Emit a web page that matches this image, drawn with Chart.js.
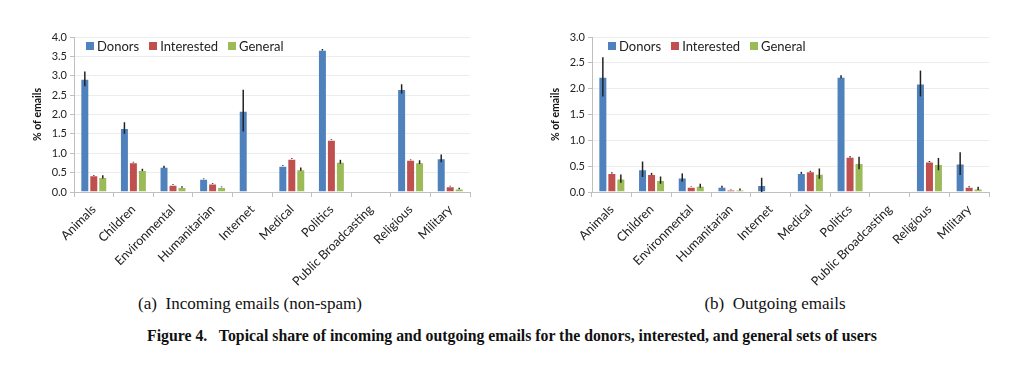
<!DOCTYPE html>
<html>
<head>
<meta charset="utf-8">
<script src="https://cdn.jsdelivr.net/npm/chart.js@4/dist/chart.umd.min.js"></script>
<style>
  body { margin: 0; width: 1036px; height: 372px; background: #fff; position: relative; overflow: hidden; }
  canvas { position: absolute; top: 0; }
  .legend { position: absolute; top: 38px; height: 16px; display: flex; align-items: center; font: 13px Lato, sans-serif; color: #222; white-space: nowrap; }
  .legend .item { display: flex; align-items: center; margin-right: 10px; }
  .legend .sq { width: 8px; height: 8px; margin-right: 3px; }
  .cap { position: absolute; top: 294px; font: 17px "Liberation Serif", serif; color: #111; transform: translateX(-50%); white-space: nowrap; }
  .fig { position: absolute; top: 327px; left: 512px; font: bold 15.8px "Liberation Serif", serif; color: #111; transform: translateX(-50%); white-space: nowrap; }
</style>
</head>
<body>
<canvas id="chartIn" width="518" height="290" style="left:0;width:518px;height:290px"></canvas>
<canvas id="chartOut" width="518" height="290" style="left:518px;width:518px;height:290px"></canvas>

<div class="legend" style="left:86px">
  <div class="item"><div class="sq" style="background:#4F81BD"></div>Donors</div>
  <div class="item"><div class="sq" style="background:#C0504D"></div>Interested</div>
  <div class="item"><div class="sq" style="background:#9BBB59"></div>General</div>
</div>
<div class="legend" style="left:608px">
  <div class="item"><div class="sq" style="background:#4F81BD"></div>Donors</div>
  <div class="item"><div class="sq" style="background:#C0504D"></div>Interested</div>
  <div class="item"><div class="sq" style="background:#9BBB59"></div>General</div>
</div>

<div class="cap" style="left:250px">(a)&nbsp; Incoming emails (non-spam)</div>
<div class="cap" style="left:775px">(b)&nbsp; Outgoing emails</div>
<div class="fig">Figure 4.&nbsp;&nbsp; Topical share of incoming and outgoing emails for the donors, interested, and general sets of users</div>

<script>
const categories = ['Animals', 'Children', 'Environmental', 'Humanitarian', 'Internet', 'Medical', 'Politics', 'Public Broadcasting', 'Religious', 'Military'];
const seriesNames = ['Donors', 'Interested', 'General'];
const colors = ['#4F81BD', '#C0504D', '#9BBB59'];

// incoming emails (non-spam)
const inDonors = [2.92, 1.65, 0.65, 0.34, 2.10, 0.68, 3.67, 0, 2.66, 0.87];
const inDonorsErr = [0.19, 0.15, 0.03, 0.01, 0.54, 0.01, 0.02, 0, 0.12, 0.10];
const inInterested = [0.43, 0.77, 0.19, 0.22, 0, 0.86, 1.35, 0, 0.83, 0.15];
const inInterestedErr = [0.01, 0.01, 0.01, 0.01, 0, 0.01, 0.01, 0, 0.01, 0.01];
const inGeneral = [0.39, 0.57, 0.13, 0.13, 0.01, 0.59, 0.78, 0, 0.77, 0.09];
const inGeneralErr = [0.04, 0.03, 0.02, 0.01, 0, 0.04, 0.05, 0, 0.05, 0.02];

// outgoing emails
const outDonors = [2.23, 0.44, 0.28, 0.10, 0.135, 0.37, 2.23, 0, 2.10, 0.55];
const outDonorsErr = [0.38, 0.15, 0.08, 0.02, 0.14, 0.02, 0.03, 0, 0.25, 0.22];
const outInterested = [0.37, 0.35, 0.10, 0.045, 0, 0.40, 0.68, 0, 0.59, 0.10];
const outInterestedErr = [0.01, 0.02, 0.005, 0.005, 0, 0.01, 0.01, 0, 0.01, 0.01];
const outGeneral = [0.26, 0.23, 0.12, 0.05, 0, 0.355, 0.56, 0, 0.54, 0.07];
const outGeneralErr = [0.08, 0.07, 0.04, 0.02, 0, 0.10, 0.12, 0, 0.12, 0.03];

const inTicksMax = 4.0;
const outTicksMax = 3.0;

// barre di errore disegnate sopra le colonne
const errorBarsPlugin = {
    id: 'errorBars',
    afterDatasetsDraw(chart) {
        const ctx = chart.ctx;
        const yScale = chart.scales.y;
        ctx.save();
        ctx.strokeStyle = '#222';
        ctx.lineWidth = 1.5;
        chart.data.datasets.forEach((ds, i) => {
            const meta = chart.getDatasetMeta(i);
            meta.data.forEach((bar, j) => {
                const err = ds.errors[j];
                if (!err) return;
                const v = ds.data[j];
                ctx.beginPath();
                ctx.moveTo(bar.x, yScale.getPixelForValue(v + err));
                ctx.lineTo(bar.x, yScale.getPixelForValue(Math.max(0, v - err)));
                ctx.stroke();
            });
        });
        ctx.restore();
    }
};

function makeChart(id, values, errors, maxY, padRight) {
    const ctx = document.getElementById(id).getContext('2d');
    return new Chart(ctx, {
        type: 'bar',
        data: {
            labels: categories,
            datasets: values.map((v, i) => ({
                label: seriesNames[i],
                data: v,
                errors: errors[i],
                backgroundColor: colors[i],
                borderColor: 'rgba(255,255,255,0.2)',
                borderWidth: 1,
                categoryPercentage: 0.68,
                barPercentage: 1.0
            }))
        },
        options: {
            responsive: false,
            animation: false,
            layout: { padding: { left: 0, right: padRight, top: 37, bottom: 0 } },
            plugins: { legend: { display: false }, tooltip: { enabled: false } },
            scales: {
                x: {
                    grid: { drawOnChartArea: false, color: '#bfbfbf', tickLength: 5, offset: true },
                    border: { color: '#bfbfbf' },
                    ticks: {
                        autoSkip: false, minRotation: 45, maxRotation: 45,
                        color: '#222', font: { family: 'Lato', size: 12.5 }, padding: 5
                    },
                    afterFit: (scale) => { scale.height = 98; }
                },
                y: {
                    min: 0, max: maxY,
                    grid: { color: '#ececec', tickLength: 4, tickColor: '#bfbfbf' },
                    border: { color: '#bfbfbf' },
                    ticks: {
                        stepSize: 0.5, color: '#222', font: { family: 'Lato', size: 11 }, padding: 3,
                        callback: (v) => v.toFixed(1)
                    },
                    title: {
                        display: true, text: '% of emails', color: '#111',
                        font: { family: 'Lato', size: 10.5, weight: 'bold' }, padding: { top: 31, bottom: 0 }
                    },
                    afterFit: (scale) => { scale.width = 74; }
                }
            }
        },
        plugins: [errorBarsPlugin]
    });
}

makeChart('chartIn', [inDonors, inInterested, inGeneral], [inDonorsErr, inInterestedErr, inGeneralErr], inTicksMax, 48);
makeChart('chartOut', [outDonors, outInterested, outGeneral], [outDonorsErr, outInterestedErr, outGeneralErr], outTicksMax, 47);
</script>
</body>
</html>
